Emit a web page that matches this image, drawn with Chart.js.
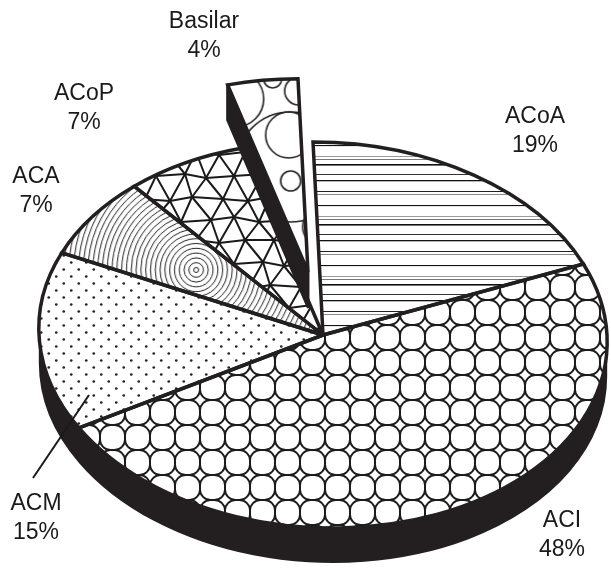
<!DOCTYPE html>
<html>
<head>
<meta charset="utf-8">
<script src="https://cdn.jsdelivr.net/npm/chart.js@4"></script>
<style>
  html, body { margin: 0; padding: 0; background: #fff; }
  canvas { display: block; }
</style>
</head>
<body>
<canvas id="c" width="611" height="570"></canvas>
<script>
// Aneurysm location shares
const categories = ['ACoA', 'ACI', 'ACM', 'ACA', 'ACoP', 'Basilar'];
const shares = [19, 48, 15, 7, 7, 4];
const pulledOut = [0, 0, 0, 0, 0, 1];

// Layout of the tilted disc (screen pixels)
const FACE = { cx: 323, cy: 335, rx: 284, ry: 193, lean: 10, depth: 35 };
const PULL = 0.33;                     // how far the pulled slice moves, in radii
const LABEL_AT = [[535, 123], [562, 527], [36, 510], [36, 183], [84, 100], [204, 28]];
const LINE_GAP = 29;
const LEADER = [[33, 478], [89, 395]];
const INK = '#231f20';

const canvas = document.getElementById('c');
const ctx0 = canvas.getContext('2d');

function tile(w, h, paint) {
  const c = document.createElement('canvas');
  c.width = w; c.height = h;
  const g = c.getContext('2d');
  g.fillStyle = '#fff';
  g.fillRect(0, 0, w, h);
  paint(g, w, h);
  return c;
}

// horizontal rules
const hatchTile = tile(8, 60, g => {
  [[0, 1.3, '#111'], [11, 1, '#222'], [14, 1, '#8a8a8a'], [25, 1.1, '#111'],
   [36, 1, '#9a9a9a'], [39, 1, '#777'], [44, 1.6, '#111'], [54, 1, '#333']]
    .forEach(([y, w, col]) => { g.fillStyle = col; g.fillRect(0, y, 8, w); });
});

// chain-link rounded cells
const chainTile = tile(25, 25, g => {
  g.strokeStyle = '#1c1c1c'; g.lineWidth = 1.9;
  for (const dx of [-25, 0, 25]) for (const dy of [-25, 0, 25]) {
    g.beginPath(); g.roundRect(dx, dy, 25, 25, 10.5); g.stroke();
  }
});

// staggered dots
const dotTile = tile(15, 14, g => {
  g.fillStyle = '#222';
  [[3.75, 3.5], [11.25, 10.5]].forEach(([x, y]) => {
    g.beginPath(); g.arc(x, y, 1.35, 0, Math.PI * 2); g.fill();
  });
});

// concentric rings
const ringTile = tile(500, 500, g => {
  g.strokeStyle = '#222'; g.lineWidth = 1;
  for (let r = 2.5; r < 360; r += 4.8) {
    g.beginPath(); g.arc(250, 250, r, 0, Math.PI * 2); g.stroke();
  }
});

// irregular triangle mesh
const meshTile = tile(78, 88, g => {
  const s = 26, h = 22;
  const jit = [[0, 0], [3, -2], [-2, 2], [1, 3], [-3, -1], [2, 1],
               [0, -3], [-1, 2], [3, 0], [-2, -2], [1, -2], [-2, 1]];
  const v = (i, j) => {
    const ii = ((i % 3) + 3) % 3, jj = ((j % 4) + 4) % 4;
    const [jx, jy] = jit[ii + jj * 3];
    return [i * s + (((j % 2) + 2) % 2) * s / 2 + jx, j * h + jy];
  };
  const seg = (p, q) => { g.beginPath(); g.moveTo(p[0], p[1]); g.lineTo(q[0], q[1]); g.stroke(); };
  g.strokeStyle = '#1a1a1a'; g.lineWidth = 2; g.lineCap = 'round';
  for (let j = -1; j <= 4; j++) for (let i = -1; i <= 3; i++) {
    seg(v(i, j), v(i + 1, j));
    seg(v(i, j), v(i, j + 1));
    if (((j % 2) + 2) % 2 === 0) seg(v(i, j), v(i - 1, j + 1));
    else seg(v(i, j), v(i + 1, j + 1));
  }
});

// bubbles
const bubbleTile = tile(300, 300, g => {
  g.strokeStyle = '#222'; g.lineWidth = 1.6;
  [[10, 10, 55], [8, -22, 23], [10, 24, 10], [-45, -58, 28], [18, -66, 14], [-8, -78, 9],
   [-62, -80, 5], [32, -40, 9], [-30, 50, 22], [40, 70, 18], [-60, 10, 20], [-10, 95, 15]]
    .forEach(([x, y, r]) => { g.beginPath(); g.arc(150 + x, 150 + y, r, 0, Math.PI * 2); g.stroke(); });
});

const fills = [hatchTile, chainTile, dotTile, ringTile, meshTile, bubbleTile]
  .map(t => ctx0.createPattern(t, 'repeat'));
// patterns pinned to a point inside their slice: [share of radius, tile w, tile h]
const pinned = [null, null, null, [0.55, 500, 500], null, [0.6, 300, 300]];

const solidPie = {
  id: 'solidPie',
  beforeDatasetsDraw(chart) {
    const ctx = chart.ctx;
    const arcs = chart.getDatasetMeta(0).data;
    const R = arcs[0].outerRadius, x0 = arcs[0].x, y0 = arcs[0].y;
    const a = FACE.rx / R, c = FACE.lean / R, d = FACE.ry / R;
    const base = new DOMMatrix([a, 0, c, d, FACE.cx - a * x0 - c * y0, FACE.cy - d * y0]);
    const mats = arcs.map((arc, i) => {
      if (!pulledOut[i]) return base;
      const mid = (arc.startAngle + arc.endAngle) / 2;
      return base.translate(Math.cos(mid) * PULL * R, Math.sin(mid) * PULL * R);
    });
    const lowered = m => new DOMMatrix().translate(0, FACE.depth).multiply(m);
    const phiS = Math.atan2(c, a);          // silhouette angle of the tilted rim
    const phiE = phiS + Math.PI;
    const ident = () => ctx.setTransform(1, 0, 0, 1, 0, 0);

    const rimBand = list => {
      ctx.beginPath();
      let any = false;
      list.forEach(i => {
        const arc = arcs[i];
        const lo = Math.max(arc.startAngle, phiS), hi = Math.min(arc.endAngle, phiE);
        if (hi <= lo) return;
        any = true;
        const { x, y } = arc;
        ctx.setTransform(mats[i]);
        ctx.moveTo(x + R * Math.cos(lo), y + R * Math.sin(lo));
        ctx.arc(x, y, R, lo, hi);
        ctx.setTransform(lowered(mats[i]));
        ctx.arc(x, y, R, hi, lo, true);
        ctx.closePath();
      });
      ident();
      if (any) { ctx.fillStyle = INK; ctx.fill(); }
    };

    const radialFaces = i => {
      const arc = arcs[i], { x, y } = arc;
      [[arc.startAngle, -Math.cos(arc.startAngle)], [arc.endAngle, Math.cos(arc.endAngle)]]
        .forEach(([ang, facing]) => {
          if (facing <= 0.01) return;
          const px = x + R * Math.cos(ang), py = y + R * Math.sin(ang);
          ctx.beginPath();
          ctx.setTransform(mats[i]);
          ctx.moveTo(x, y); ctx.lineTo(px, py);
          ctx.setTransform(lowered(mats[i]));
          ctx.lineTo(px, py); ctx.lineTo(x, y);
          ctx.closePath();
          ident();
          ctx.fillStyle = INK; ctx.fill();
          ctx.lineWidth = 3; ctx.strokeStyle = INK; ctx.lineJoin = 'round'; ctx.stroke();
        });
    };

    const top = i => {
      const arc = arcs[i], m = mats[i], inv = m.inverse();
      const pat = arc.options.backgroundColor;
      const pin = pinned[i];
      if (pin) {
        const mid = (arc.startAngle + arc.endAngle) / 2;
        const p = m.transformPoint(new DOMPoint(arc.x + pin[0] * R * Math.cos(mid), arc.y + pin[0] * R * Math.sin(mid)));
        pat.setTransform(inv.multiply(new DOMMatrix().translate(p.x - pin[1] / 2, p.y - pin[2] / 2)));
      } else {
        pat.setTransform(inv);
      }
      ctx.save();
      ctx.setTransform(m);
      arc.draw(ctx);
      ctx.restore();
    };

    const outline = i => {
      const arc = arcs[i];
      ctx.beginPath();
      ctx.setTransform(mats[i]);
      ctx.moveTo(arc.x, arc.y);
      ctx.arc(arc.x, arc.y, R, arc.startAngle, arc.endAngle);
      ctx.closePath();
      ident();
      ctx.lineWidth = 3.5; ctx.strokeStyle = INK;
      ctx.lineJoin = 'miter'; ctx.miterLimit = 3;
      ctx.stroke();
    };

    ctx.save();
    const body = arcs.map((_, i) => i).filter(i => !pulledOut[i]);
    const loose = arcs.map((_, i) => i).filter(i => pulledOut[i]);
    rimBand(body);
    body.forEach(top);
    body.forEach(outline);
    loose.forEach(i => { rimBand([i]); radialFaces(i); top(i); outline(i); });
    ctx.restore();
    return false;
  },
  afterDraw(chart) {
    const ctx = chart.ctx;
    ctx.save();
    ctx.setTransform(1, 0, 0, 1, 0, 0);
    ctx.font = '23px "Liberation Sans", Arial, sans-serif';
    ctx.fillStyle = '#1a1a1a';
    ctx.textAlign = 'center';
    ctx.textBaseline = 'alphabetic';
    categories.forEach((name, i) => {
      const [x, y] = LABEL_AT[i];
      ctx.fillText(name, x, y);
      ctx.fillText(shares[i] + '%', x, y + LINE_GAP);
    });
    ctx.beginPath();
    ctx.moveTo(LEADER[0][0], LEADER[0][1]);
    ctx.lineTo(LEADER[1][0], LEADER[1][1]);
    ctx.lineWidth = 2; ctx.strokeStyle = '#1a1a1a';
    ctx.stroke();
    ctx.restore();
  }
};

new Chart(canvas, {
  type: 'pie',
  data: {
    labels: categories,
    datasets: [{ data: shares, backgroundColor: fills, borderWidth: 0 }]
  },
  options: {
    responsive: false,
    animation: false,
    devicePixelRatio: 1,
    events: [],
    layout: { padding: 0 },
    plugins: { legend: { display: false }, tooltip: { enabled: false } }
  },
  plugins: [solidPie]
});
</script>
</body>
</html>
